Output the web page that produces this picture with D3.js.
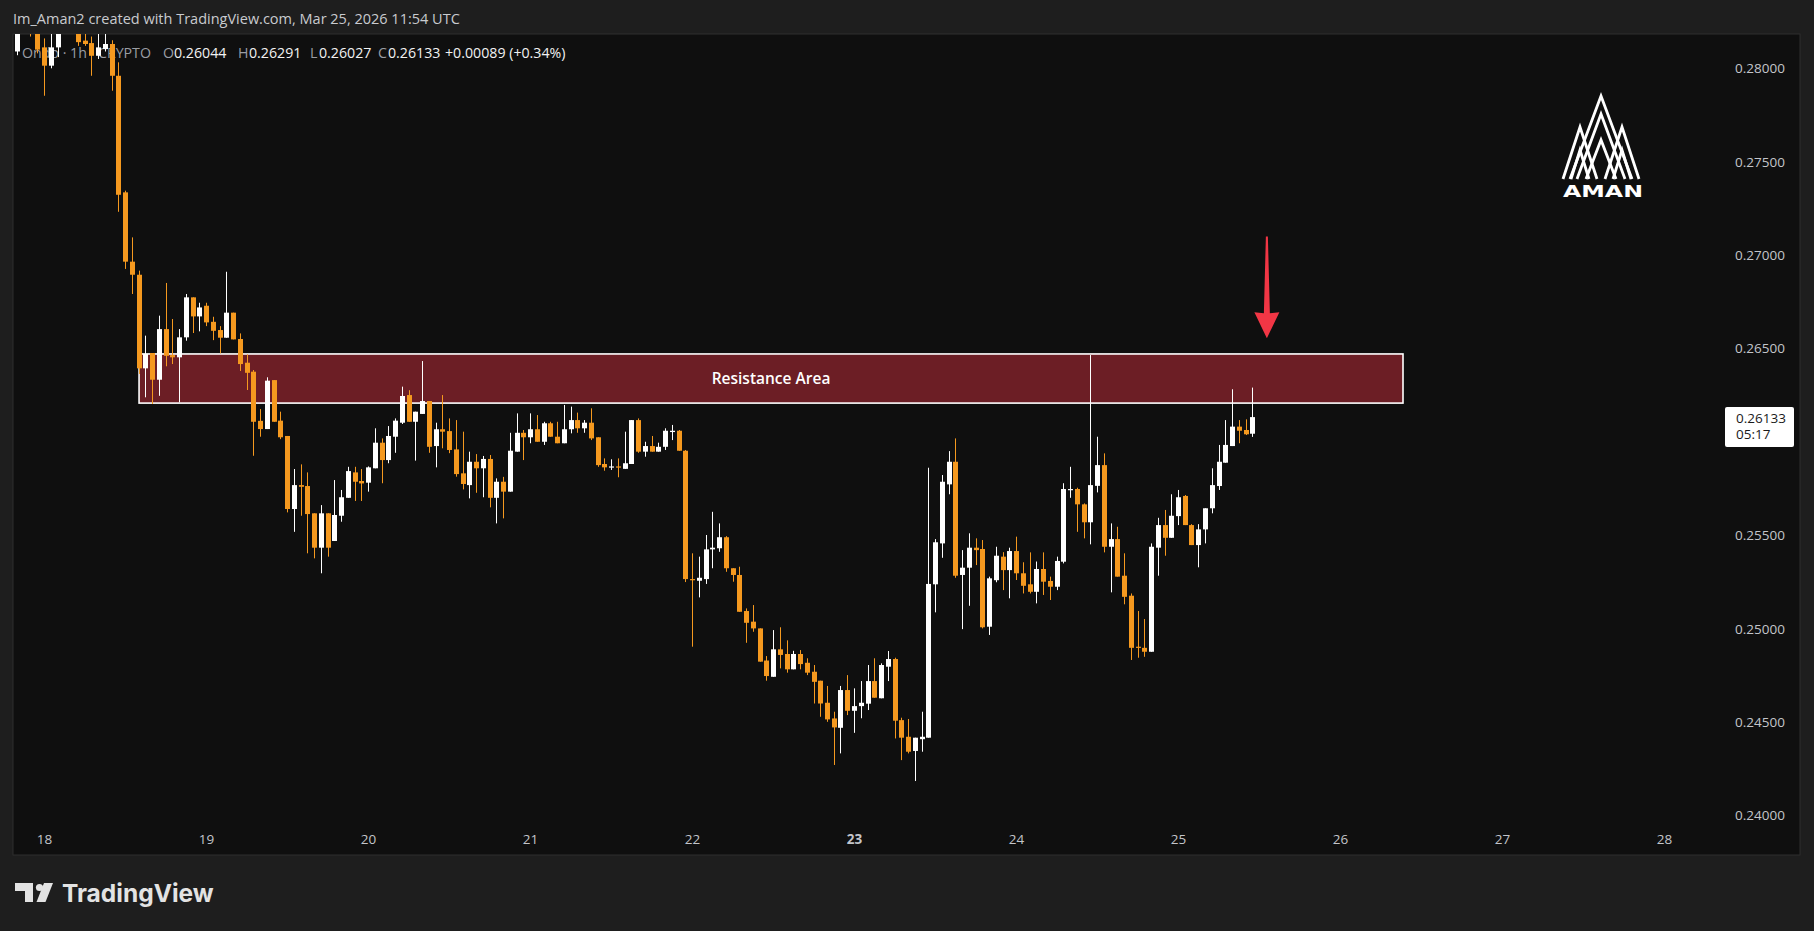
<!DOCTYPE html>
<html><head><meta charset="utf-8">
<script src="https://cdn.jsdelivr.net/npm/d3@7"></script>
<style>
html,body{margin:0;padding:0;background:#1e1e1e;overflow:hidden;}
svg{display:block;}
</style></head><body>
<svg id="c" width="1814" height="931"></svg>
<script>
// ---------------- DATA ----------------
const startTime = "2026-03-17T20:00:00Z"; // first hourly bar
const opens = [0.2809,0.2826,0.2832,0.2822,0.28112,0.28014,0.28112,0.2820,0.2828,0.2822,0.28148,0.28135,0.28067,0.28103,0.2813,0.2796,0.27336,0.26965,0.26895,0.26394,0.26476,0.26333,0.26604,0.26465,0.26453,0.2656,0.26774,0.26672,0.26729,
0.26643,0.26599,0.26558,0.26692,0.26551,0.26424,0.26376,0.26113,0.26069,0.26331,0.26114,0.26032,0.25641,0.25769,0.25764,0.25618,0.25434,0.25618,0.2547,0.25605,0.25701,0.25837,0.25791,
0.25782,0.25859,0.25996,0.25903,0.26028,0.26103,0.26251,0.26108,0.2615,0.26219,0.25978,0.26068,0.26058,0.2596,0.25832,0.25769,0.25894,0.25859,0.25909,0.25701,0.25787,0.25734,0.25948,0.26049,
0.26025,0.26068,0.26001,0.261,0.26028,0.25993,0.26068,0.26117,0.26073,0.26103,0.26025,0.25882,0.25864,0.25869,0.25856,0.25882,0.26117,0.25948,0.25978,0.25948,0.25974,0.26053,0.2606,0.25953,
0.25266,0.25257,0.25266,0.25425,0.25431,0.2549,0.25324,0.25288,0.25095,0.25038,0.25002,0.2483,0.24743,0.2489,0.24865,0.24783,0.24865,0.24818,0.2477,0.24722,0.24604,0.2452,0.2447,0.24672,0.24561,
0.24586,0.24599,0.2472,0.24628,0.24797,0.24838,0.24511,0.24422,0.24346,0.24409,0.24417,0.25238,0.25457,0.25773,0.25894,0.25288,0.25327,0.25434,0.25427,0.25011,0.2526,0.25386,0.25314,
0.25416,0.25297,0.25238,0.25198,0.2532,0.25256,0.25225,0.25359,0.25743,0.25748,0.25666,0.2557,0.25765,0.25876,0.25439,0.2548,0.25284,0.25177,0.24904,0.24898,0.24877,0.25434,0.25555,0.25487,
0.25603,0.25711,0.25555,0.25448,0.25532,0.25645,0.25764,0.25889,0.25978,0.26082,0.26064,0.26044];
const highs = [0.2832,0.2840,0.2836,0.2826,0.2816,0.2828,0.2830,0.2834,0.2833,0.2826,0.2819,0.2817,0.2819,0.2819,0.2815,0.28032,0.27345,0.27095,0.26917,0.26569,0.26476,0.26676,0.26851,0.26658,0.26604,0.26792,0.26774,0.26745,0.26745,
0.2667,0.2662,0.26911,0.26692,0.26581,0.26469,0.26385,0.26176,0.26346,0.26331,0.26162,0.26032,0.25855,0.2588,0.25837,0.25618,0.25662,0.25618,0.25796,0.25743,0.25867,0.25867,0.25855,
0.25869,0.26073,0.26019,0.26085,0.26126,0.26296,0.26277,0.26162,0.26433,0.26219,0.26103,0.26251,0.26126,0.26117,0.26055,0.25948,0.25935,0.25925,0.2593,0.25805,0.25813,0.26049,0.26153,0.26064,
0.26153,0.26144,0.26108,0.26108,0.26108,0.26198,0.26189,0.26157,0.26117,0.2618,0.26025,0.25912,0.25907,0.25912,0.26055,0.26117,0.26126,0.26001,0.26032,0.25996,0.26073,0.26091,0.26064,0.25957,
0.25404,0.25386,0.25502,0.25626,0.25564,0.25496,0.25324,0.25332,0.25109,0.25127,0.25002,0.24854,0.24993,0.25008,0.24938,0.24882,0.24886,0.24842,0.24806,0.24722,0.24694,0.24556,0.24694,0.24752,0.24681,
0.2472,0.24806,0.24842,0.24815,0.24881,0.24845,0.24524,0.24517,0.24417,0.24556,0.25862,0.2548,0.25823,0.25951,0.26019,0.25421,0.25511,0.25484,0.25475,0.25279,0.25439,0.2541,0.25434,
0.25493,0.25356,0.25409,0.2536,0.25409,0.25279,0.25386,0.25779,0.25867,0.25755,0.25671,0.26465,0.26028,0.25939,0.25564,0.25546,0.25404,0.25189,0.25095,0.25052,0.25457,0.25594,0.25636,0.2572,
0.25743,0.25716,0.2556,0.2556,0.25645,0.25859,0.25984,0.26117,0.26282,0.26117,0.26121,0.26291];
const lows = [0.2807,0.2822,0.2817,0.2808,0.27853,0.2800,0.2806,0.2819,0.2819,0.2812,0.2812,0.2796,0.2805,0.2809,0.2788,0.27232,0.26926,0.26792,0.26364,0.26239,0.26203,0.26247,0.26405,0.26417,0.26212,0.26542,0.26583,0.26592,0.2662,
0.26545,0.26474,0.26558,0.26549,0.2638,0.26278,0.25926,0.26028,0.26069,0.26108,0.26015,0.25623,0.25519,0.25605,0.25404,0.25377,0.25297,0.25386,0.2547,0.25573,0.25701,0.25684,0.25684,
0.25734,0.25859,0.25779,0.25886,0.25942,0.26096,0.26108,0.259,0.2615,0.25942,0.25864,0.25966,0.2594,0.25814,0.25746,0.25698,0.25728,0.25704,0.2565,0.25564,0.25591,0.25734,0.25948,0.25903,
0.25993,0.26001,0.25984,0.26028,0.25993,0.25993,0.26046,0.26049,0.26049,0.2601,0.25867,0.25846,0.2585,0.25811,0.25856,0.25882,0.25942,0.25921,0.25948,0.25948,0.25957,0.2601,0.25953,0.2525,
0.24904,0.25168,0.2524,0.25324,0.25412,0.25305,0.25252,0.25091,0.24925,0.24984,0.24824,0.24722,0.24743,0.24788,0.24765,0.24783,0.24783,0.24752,0.246,0.24529,0.24502,0.24271,0.24333,0.24538,0.24443,
0.24521,0.24565,0.24631,0.24628,0.2472,0.24413,0.24297,0.24333,0.24185,0.24342,0.24417,0.25088,0.2538,0.2572,0.25273,0.24998,0.25123,0.25341,0.25002,0.24967,0.25249,0.25207,0.25163,
0.25261,0.25189,0.25189,0.25136,0.25181,0.25154,0.25207,0.2535,0.25701,0.25519,0.25484,0.25452,0.2573,0.25409,0.25195,0.25279,0.25131,0.24833,0.24845,0.2485,0.24877,0.25284,0.25391,0.25487,
0.25555,0.25555,0.25448,0.25329,0.25457,0.25618,0.25743,0.25889,0.25978,0.25993,0.26037,0.26027];
const closes = [0.2826,0.2832,0.2822,0.2810,0.28014,0.28112,0.2820,0.2828,0.2822,0.2814,0.2813,0.28067,0.28112,0.2813,0.2796,0.27323,0.26965,0.26895,0.26394,0.26471,0.26333,0.26604,0.26461,0.26453,0.2656,0.26774,0.26672,0.2672,0.2664,
0.26595,0.26558,0.26692,0.26549,0.26417,0.2637,0.26108,0.26069,0.26328,0.26108,0.26025,0.25641,0.25769,0.2576,0.25614,0.25434,0.25618,0.25434,0.25609,0.25704,0.25844,0.25787,0.25778,
0.25864,0.25996,0.25903,0.26032,0.26114,0.26246,0.26108,0.26162,0.26219,0.25974,0.26068,0.26055,0.25957,0.25828,0.25775,0.25894,0.25859,0.25909,0.25701,0.25787,0.25734,0.25953,0.26049,0.26025,
0.26068,0.26001,0.261,0.26028,0.25993,0.26068,0.26117,0.26073,0.26103,0.26019,0.25876,0.25864,0.25869,0.25864,0.25886,0.26117,0.25948,0.25978,0.25948,0.25974,0.2606,0.2606,0.25953,0.25266,
0.25264,0.25273,0.25425,0.25434,0.2549,0.25324,0.25288,0.25091,0.25032,0.25002,0.24824,0.24747,0.2489,0.2486,0.24783,0.24865,0.24811,0.24765,0.24716,0.246,0.24515,0.24472,0.24672,0.24561,0.24586,
0.24604,0.2472,0.24631,0.24806,0.24838,0.24508,0.24417,0.24342,0.24417,0.24422,0.2524,0.25463,0.25787,0.25894,0.25284,0.25327,0.25434,0.25421,0.25008,0.2527,0.25391,0.25314,0.25416,
0.25297,0.2523,0.25198,0.2532,0.25252,0.25225,0.25363,0.25748,0.25748,0.25666,0.2557,0.25769,0.25876,0.25439,0.2548,0.25279,0.25171,0.24898,0.24898,0.24877,0.25439,0.25555,0.25487,0.25605,
0.25704,0.25555,0.25448,0.25532,0.25645,0.25769,0.25894,0.25984,0.26082,0.2606,0.26041,0.26133];

const yTickValues = [0.24,0.245,0.25,0.255,0.26,0.265,0.27,0.275,0.28];
const xTickDays = ["2026-03-18","2026-03-19","2026-03-20","2026-03-21","2026-03-22","2026-03-23","2026-03-24","2026-03-25","2026-03-26","2026-03-27","2026-03-28"];
const boldDays = ["2026-03-23"];
const zoneTimes = ["2026-03-18T14:05:00Z","2026-03-26T09:20:00Z"];
const zonePrices = [0.26471,0.26208];
const zoneLabel = "Resistance Area";
const arrowTime = "2026-03-25T13:10:00Z";
const arrowPrices = [0.27100,0.26555];
const headerText = "Im_Aman2 created with TradingView.com, Mar 25, 2026 11:54 UTC";
const legendParts = [
  {t:"Ondo · 1h · CRYPTO", c:"#9a9da3", x:22},
  {t:"O", c:"#9a9da3", x:163},{t:"0.26044", c:"#f2f2f2", x:174},
  {t:"H", c:"#9a9da3", x:238},{t:"0.26291", c:"#f2f2f2", x:249},
  {t:"L", c:"#9a9da3", x:310},{t:"0.26027", c:"#f2f2f2", x:319},
  {t:"C", c:"#9a9da3", x:378},{t:"0.26133", c:"#f2f2f2", x:388},
  {t:"+0.00089 (+0.34%)", c:"#f2f2f2", x:445}
];
const lastPriceLabel = ["0.26133","05:17"];

// ---------------- LAYOUT ----------------
const svg = d3.select("#c");
const UP = "#ffffff", DOWN = "#f5991f";
const FONT = "'Open Sans','Noto Sans',sans-serif";
const paneL = 13, paneT = 34, paneR = 1716, paneB = 826, frameR = 1800, frameB = 855;

const y = d3.scaleLinear().domain([0.24, 0.28]).range([815.6, 68.3]);
const x = d3.scaleUtc()
  .domain([new Date("2026-03-18T00:00:00Z"), new Date("2026-03-25T00:00:00Z")])
  .range([44, 1178]);

const t0 = new Date(startTime);
const bars = opens.map((o,i)=>({t:d3.utcHour.offset(t0,i), o, h:highs[i], l:lows[i], c:closes[i]}));

// backgrounds
svg.append("rect").attr("width",1814).attr("height",931).attr("fill","#1e1e1e");
svg.append("rect").attr("x",paneL).attr("y",paneT).attr("width",frameR-paneL).attr("height",frameB-paneT)
  .attr("fill","#0f0f0f").attr("stroke","#2e2e2e").attr("stroke-width",1);

// header
svg.append("text").attr("x",13).attr("y",24).text(headerText)
  .attr("font-family",FONT).attr("font-size",14.5).attr("fill","#c9cbcf");

// legend (beneath candles)
const lg = svg.append("g").attr("font-family",FONT).attr("font-size",14.2);
lg.selectAll("text").data(legendParts).join("text")
  .attr("x",d=>d.x).attr("y",58).attr("fill",d=>d.c).text(d=>d.t);

svg.append("clipPath").attr("id","pc").append("rect")
  .attr("x",paneL).attr("y",paneT).attr("width",paneR-paneL).attr("height",paneB-paneT);
const plot = svg.append("g").attr("clip-path","url(#pc)");

// resistance zone
const zx0 = x(new Date(zoneTimes[0])), zx1 = x(new Date(zoneTimes[1]));
const zy0 = y(zonePrices[0]), zy1 = y(zonePrices[1]);
plot.append("rect").attr("x",zx0).attr("y",zy0).attr("width",zx1-zx0).attr("height",zy1-zy0)
  .attr("fill","#6c1e25").attr("stroke","#ffffff").attr("stroke-width",1.6);

// candles
const bw = 5;
const cg = plot.append("g");
cg.selectAll("line.w").data(bars).join("line").attr("class","w")
  .attr("x1",d=>Math.round(x(d.t))+0.5).attr("x2",d=>Math.round(x(d.t))+0.5)
  .attr("y1",d=>y(d.h)).attr("y2",d=>y(d.l))
  .attr("stroke",d=>d.c>=d.o?UP:DOWN).attr("stroke-width",1);
cg.selectAll("rect.b").data(bars).join("rect").attr("class","b")
  .attr("x",d=>Math.round(x(d.t))-2).attr("width",bw)
  .attr("y",d=>y(Math.max(d.o,d.c)))
  .attr("height",d=>Math.max(1.2, Math.abs(y(d.o)-y(d.c))))
  .attr("fill",d=>d.c>=d.o?UP:DOWN);

// zone label
plot.append("text").attr("x",(zx0+zx1)/2).attr("y",(zy0+zy1)/2+5.5).attr("text-anchor","middle")
  .attr("font-family",FONT).attr("font-size",15.5).attr("font-weight",600).attr("fill","#ffffff")
  .text(zoneLabel);

// arrow
const ax = x(new Date(arrowTime)), ay0 = y(arrowPrices[0]), ay1 = y(arrowPrices[1]);
const headH = 26, headW = 12.5;
plot.append("path").attr("fill","#f23645")
  .attr("d",`M${ax-1},${ay0} L${ax+1},${ay0} L${ax+3},${ay1-headH+1} L${ax+headW},${ay1-headH} L${ax},${ay1} L${ax-headW},${ay1-headH} L${ax-3},${ay1-headH+1} Z`);

// y axis
const yAxis = d3.axisRight(y).tickValues(yTickValues).tickFormat(d3.format(".5f")).tickSize(0).tickPadding(0);
const ya = svg.append("g").attr("transform",`translate(1735,0)`).call(yAxis);
ya.select(".domain").remove();
ya.selectAll("text").attr("font-family",FONT).attr("font-size",13.5).attr("fill","#c3c5ca");

// x axis
const xAxis = d3.axisBottom(x).tickValues(xTickDays.map(d=>new Date(d+"T00:00:00Z")))
  .tickFormat(d=>d.getUTCDate()).tickSize(0).tickPadding(0);
const xa = svg.append("g").attr("transform",`translate(0,834)`).call(xAxis);
xa.select(".domain").remove();
xa.selectAll("text").attr("font-family",FONT).attr("font-size",13.5).attr("fill","#c3c5ca")
  .attr("font-weight",d=>boldDays.includes(d3.utcFormat("%Y-%m-%d")(d))?700:400);

// last price label (covers the 0.26000 tick as in the original)
const lp = svg.append("g");
lp.append("rect").attr("x",1725).attr("y",407).attr("width",69).attr("height",40).attr("rx",2).attr("fill","#ffffff");
lp.selectAll("text").data(lastPriceLabel).join("text")
  .attr("x",1736).attr("y",(d,i)=>423+i*15.5)
  .attr("font-family",FONT).attr("font-size",13.5).attr("fill","#1a1a1a").text(d=>d);

// AMAN logo
const lgG = svg.append("g").attr("fill","none").attr("stroke","#ffffff").attr("stroke-width",2.8).attr("stroke-linejoin","miter");
const peaks = [
  [[1570,179],[1601,96],[1632,179]],
  [[1577,179],[1601,114],[1625,179]],
  [[1563,179],[1580,127],[1597,179]],
  [[1605,179],[1622,127],[1639,179]],
  [[1571,179],[1580,150],[1589,179]],
  [[1613,179],[1622,150],[1631,179]],
  [[1586,179],[1601,140],[1616,179]]
];
lgG.selectAll("polyline").data(peaks).join("polyline").attr("points",d=>d.map(p=>p.join(",")).join(" "));
svg.append("text").attr("x",1563).attr("y",197).attr("textLength",80).attr("lengthAdjust","spacingAndGlyphs")
  .attr("font-family","'DejaVu Sans',sans-serif")
  .attr("font-weight",700).attr("font-size",16).attr("fill","#ffffff").text("AMAN");

// TradingView footer logo
const tv = svg.append("g").attr("fill","#e3e3e3");
tv.append("path").attr("d","M15,883 L33,883 L33,902 L25,902 L25,891 L15,891 Z");
tv.append("circle").attr("cx",39.5).attr("cy",887.5).attr("r",3.6);
tv.append("path").attr("d","M44,883 L53,883 L45.5,902 L36.5,902 Z");
tv.append("text").attr("x",62).attr("y",902).attr("font-family","Inter, Lato, sans-serif").attr("font-weight",700)
  .attr("font-size",24.5).attr("fill","#e3e3e3").text("TradingView");
</script>
</body></html>
